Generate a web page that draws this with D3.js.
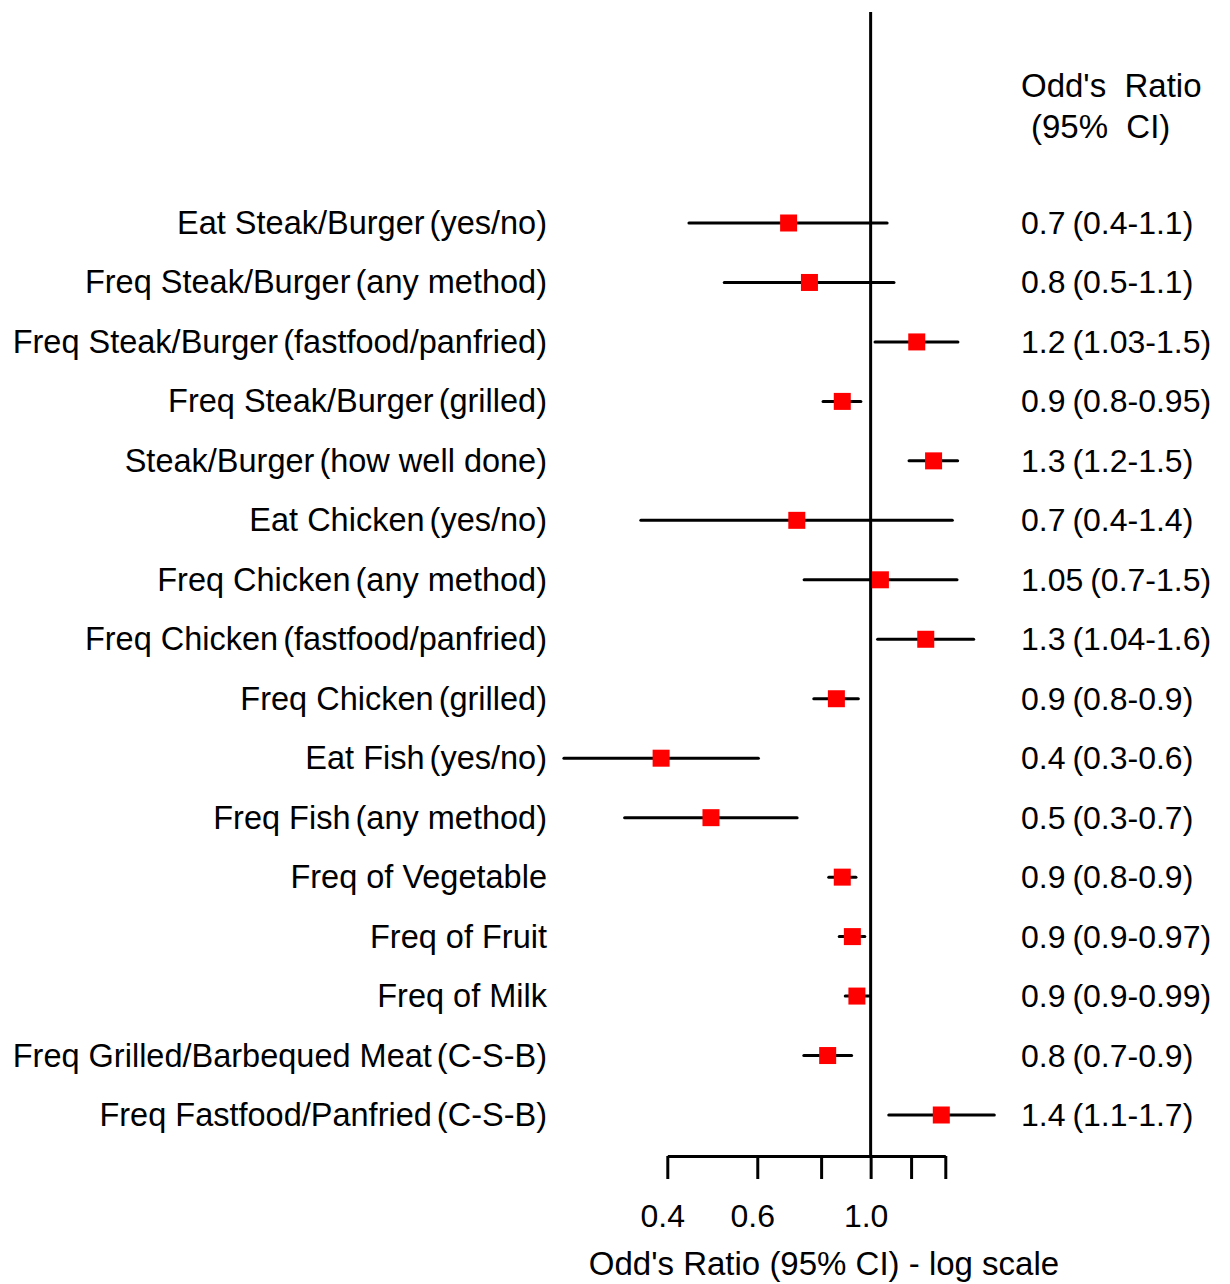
<!DOCTYPE html>
<html>
<head>
<meta charset="utf-8">
<script src="https://cdn.jsdelivr.net/npm/d3@7"></script>
<style>
  html, body { margin: 0; padding: 0; background: #fff; }
  svg { display: block; }
  text { font-family: "Liberation Sans", Arial, Helvetica, sans-serif; fill: #000; }
</style>
</head>
<body>
<svg id="chart" width="1230" height="1284"></svg>
<script>
const labels = [
  "Eat Steak/Burger (yes/no)",
  "Freq Steak/Burger (any method)",
  "Freq Steak/Burger (fastfood/panfried)",
  "Freq Steak/Burger (grilled)",
  "Steak/Burger (how well done)",
  "Eat Chicken (yes/no)",
  "Freq Chicken (any method)",
  "Freq Chicken (fastfood/panfried)",
  "Freq Chicken (grilled)",
  "Eat Fish (yes/no)",
  "Freq Fish (any method)",
  "Freq of Vegetable",
  "Freq of Fruit",
  "Freq of Milk",
  "Freq Grilled/Barbequed Meat (C-S-B)",
  "Freq Fastfood/Panfried (C-S-B)"
];
const oddsRatio = [0.691, 0.759, 1.231, 0.880, 1.328, 0.717, 1.045, 1.282, 0.857, 0.389, 0.487, 0.880, 0.921, 0.940, 0.824, 1.375];
const ciLower   = [0.441, 0.517, 1.020, 0.807, 1.189, 0.355, 0.741, 1.032, 0.774, 0.251, 0.330, 0.828, 0.868, 0.892, 0.740, 1.085];
const ciUpper   = [1.077, 1.111, 1.482, 0.957, 1.480, 1.445, 1.476, 1.591, 0.946, 0.603, 0.718, 0.936, 0.974, 0.994, 0.918, 1.746];
const orText = [
  "0.7 (0.4-1.1)", "0.8 (0.5-1.1)", "1.2 (1.03-1.5)", "0.9 (0.8-0.95)",
  "1.3 (1.2-1.5)", "0.7 (0.4-1.4)", "1.05 (0.7-1.5)", "1.3 (1.04-1.6)",
  "0.9 (0.8-0.9)", "0.4 (0.3-0.6)", "0.5 (0.3-0.7)", "0.9 (0.8-0.9)",
  "0.9 (0.9-0.97)", "0.9 (0.9-0.99)", "0.8 (0.7-0.9)", "1.4 (1.1-1.7)"
];
const tickValues = [0.4, 0.6, 0.8, 1.0, 1.2, 1.4];
const tickLabels = ["0.4", "0.6", "", "1.0", "", ""];
const headerLines = ["Odd's  Ratio", "(95%  CI)"];
const axisTitle = "Odd's Ratio (95% CI) - log scale";

const rows = labels.map((l, i) => ({label: l, or: oddsRatio[i], lo: ciLower[i], hi: ciUpper[i], txt: orText[i]}));

const svg = d3.select("#chart");
const x = d3.scaleLog().domain([0.4, 1.4]).range([667.3, 945.3]);
const y = d3.scalePoint().domain(labels).range([223, 1115]);
const axisY = 1156;
const fs = 32;

// write text with a slightly tightened space before the parenthesis
function splitParen(sel, accessor, tighten) {
  sel.each(function(d) {
    const s = accessor(d);
    const k = s.lastIndexOf(" (");
    const t = d3.select(this);
    if (k < 0) { t.text(s); return; }
    t.append("tspan").text(s.slice(0, k));
    t.append("tspan").attr("dx", tighten).text(s.slice(k));
  });
}

// reference line at OR = 1
svg.append("line")
  .attr("x1", x(1)).attr("x2", x(1))
  .attr("y1", 12).attr("y2", axisY)
  .attr("stroke", "#000").attr("stroke-width", 3);

// CI lines
svg.append("g").selectAll("line").data(rows).join("line")
  .attr("x1", d => x(d.lo)).attr("x2", d => x(d.hi))
  .attr("y1", d => y(d.label)).attr("y2", d => y(d.label))
  .attr("stroke", "#000").attr("stroke-width", 3).attr("stroke-linecap", "round");

// point estimates
const sq = 17;
svg.append("g").selectAll("rect").data(rows).join("rect")
  .attr("x", d => x(d.or) - sq / 2).attr("y", d => y(d.label) - sq / 2)
  .attr("width", sq).attr("height", sq)
  .attr("fill", "#ff0000");

// row labels
svg.append("g").selectAll("text").data(rows).join("text")
  .attr("x", 547).attr("y", d => y(d.label) + 11)
  .attr("text-anchor", "end").attr("font-size", 32.5)
  .call(splitParen, d => d.label, -4);

// OR text column
svg.append("g").selectAll("text").data(rows).join("text")
  .attr("x", 1021).attr("y", d => y(d.label) + 11)
  .attr("font-size", fs)
  .call(splitParen, d => d.txt, -2);

// header
svg.append("g").selectAll("text").data(headerLines).join("text")
  .attr("x", (d, i) => i === 0 ? 1021 : 1031)
  .attr("y", (d, i) => i === 0 ? 97 : 138)
  .attr("font-size", 33)
  .style("white-space", "pre")
  .attr("xml:space", "preserve")
  .text(d => d);

// axis
const axis = d3.axisBottom(x)
  .tickValues(tickValues)
  .tickFormat((d, i) => tickLabels[i])
  .tickSize(23).tickSizeOuter(0).tickPadding(25);
const gAxis = svg.append("g").attr("transform", `translate(0,${axisY})`).call(axis);
gAxis.select(".domain").attr("stroke", "#000").attr("stroke-width", 3);
gAxis.selectAll(".tick line").attr("stroke", "#000").attr("stroke-width", 3);
gAxis.selectAll(".tick text")
  .attr("font-size", fs)
  .attr("font-family", "'Liberation Sans', Arial, Helvetica, sans-serif")
  .attr("fill", "#000")
  .attr("dx", -5);

// axis title
svg.append("text")
  .attr("x", 824).attr("y", 1275)
  .attr("text-anchor", "middle").attr("font-size", 33)
  .text(axisTitle);
</script>
</body>
</html>
